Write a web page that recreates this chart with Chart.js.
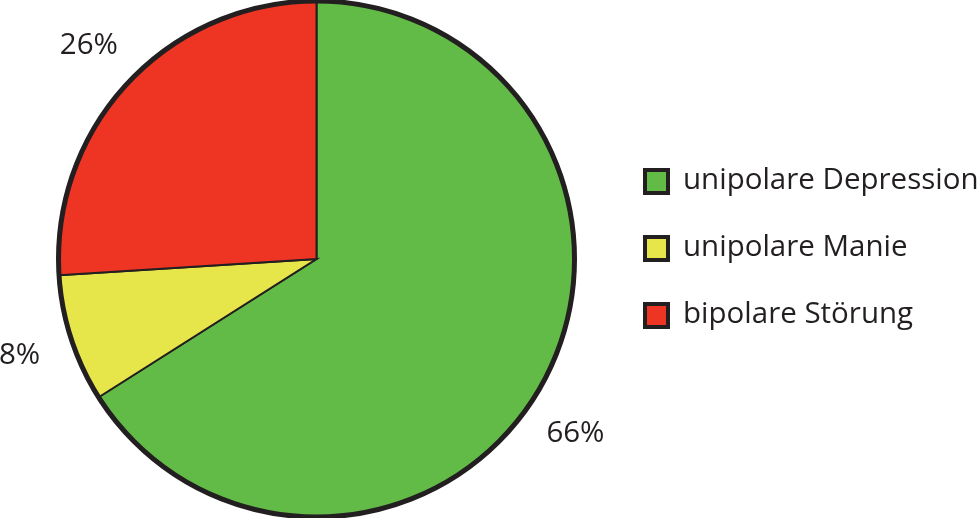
<!DOCTYPE html>
<html>
<head>
<meta charset="utf-8">
<script src="https://cdn.jsdelivr.net/npm/chart.js@4.4.1/dist/chart.umd.min.js"></script>
<style>
  html, body { margin: 0; padding: 0; background: #fff; }
  #wrap { width: 980px; height: 518px; position: relative; }
</style>
</head>
<body>
<div id="wrap"><canvas id="pie" width="980" height="518"></canvas></div>
<script>
// data
const labels = ["unipolare Depression", "unipolare Manie", "bipolare Störung"];
const values = [66, 8, 26];
const colors = ["#62bb47", "#e6e64b", "#ee3524"];
const pctLabels = ["66%", "8%", "26%"];

const ink = "#231f20";
const fontFamily = "'Open Sans', 'Noto Sans', sans-serif";

// outer ring + percent labels + legend
const decor = {
    id: "decor",
    afterDatasetsDraw(chart) {
        const ctx = chart.ctx;
        const arcs = chart.getDatasetMeta(0).data;
        const a0 = arcs[0];

        // thick outline round the pie
        ctx.save();
        ctx.beginPath();
        ctx.arc(a0.x, a0.y, a0.outerRadius, 0, Math.PI * 2);
        ctx.lineWidth = 5;
        ctx.strokeStyle = ink;
        ctx.stroke();
        ctx.restore();

        // percent labels, pushed out along the slice middle
        const push = [1.21, 1.21, 1.21];
        const turn = [0.09, 0.0, 0.0];
        ctx.save();
        ctx.fillStyle = ink;
        ctx.font = "29.5px " + fontFamily;
        ctx.textAlign = "center";
        ctx.textBaseline = "middle";
        arcs.forEach((arc, i) => {
            const mid = (arc.startAngle + arc.endAngle) / 2 + turn[i];
            const r = arc.outerRadius * push[i];
            ctx.fillText(pctLabels[i], arc.x + Math.cos(mid) * r, arc.y + Math.sin(mid) * r);
        });
        ctx.restore();

        // legend
        const lx = 643, ly = 168, step = 67, box = 27;
        ctx.save();
        ctx.font = "29.5px " + fontFamily;
        ctx.textBaseline = "middle";
        labels.forEach((lab, i) => {
            const y = ly + i * step;
            ctx.fillStyle = ink;
            ctx.fillRect(lx, y, box, box);
            ctx.fillStyle = colors[i];
            ctx.fillRect(lx + 4, y + 4, box - 8, box - 8);
            ctx.fillStyle = ink;
            ctx.fillText(lab, lx + 40, y + box / 2 - 1);
        });
        ctx.restore();
    }
};

new Chart(document.getElementById("pie"), {
    type: "pie",
    data: {
        labels: labels,
        datasets: [{
            data: values,
            backgroundColor: colors,
            borderColor: ink,
            borderWidth: 2,
            borderJoinStyle: "miter"
        }]
    },
    options: {
        responsive: false,
        animation: false,
        layout: { padding: { left: 57, right: 404, top: 0, bottom: 0 } },
        plugins: {
            legend: { display: false },
            tooltip: { enabled: false }
        }
    },
    plugins: [decor]
});
</script>
</body>
</html>
